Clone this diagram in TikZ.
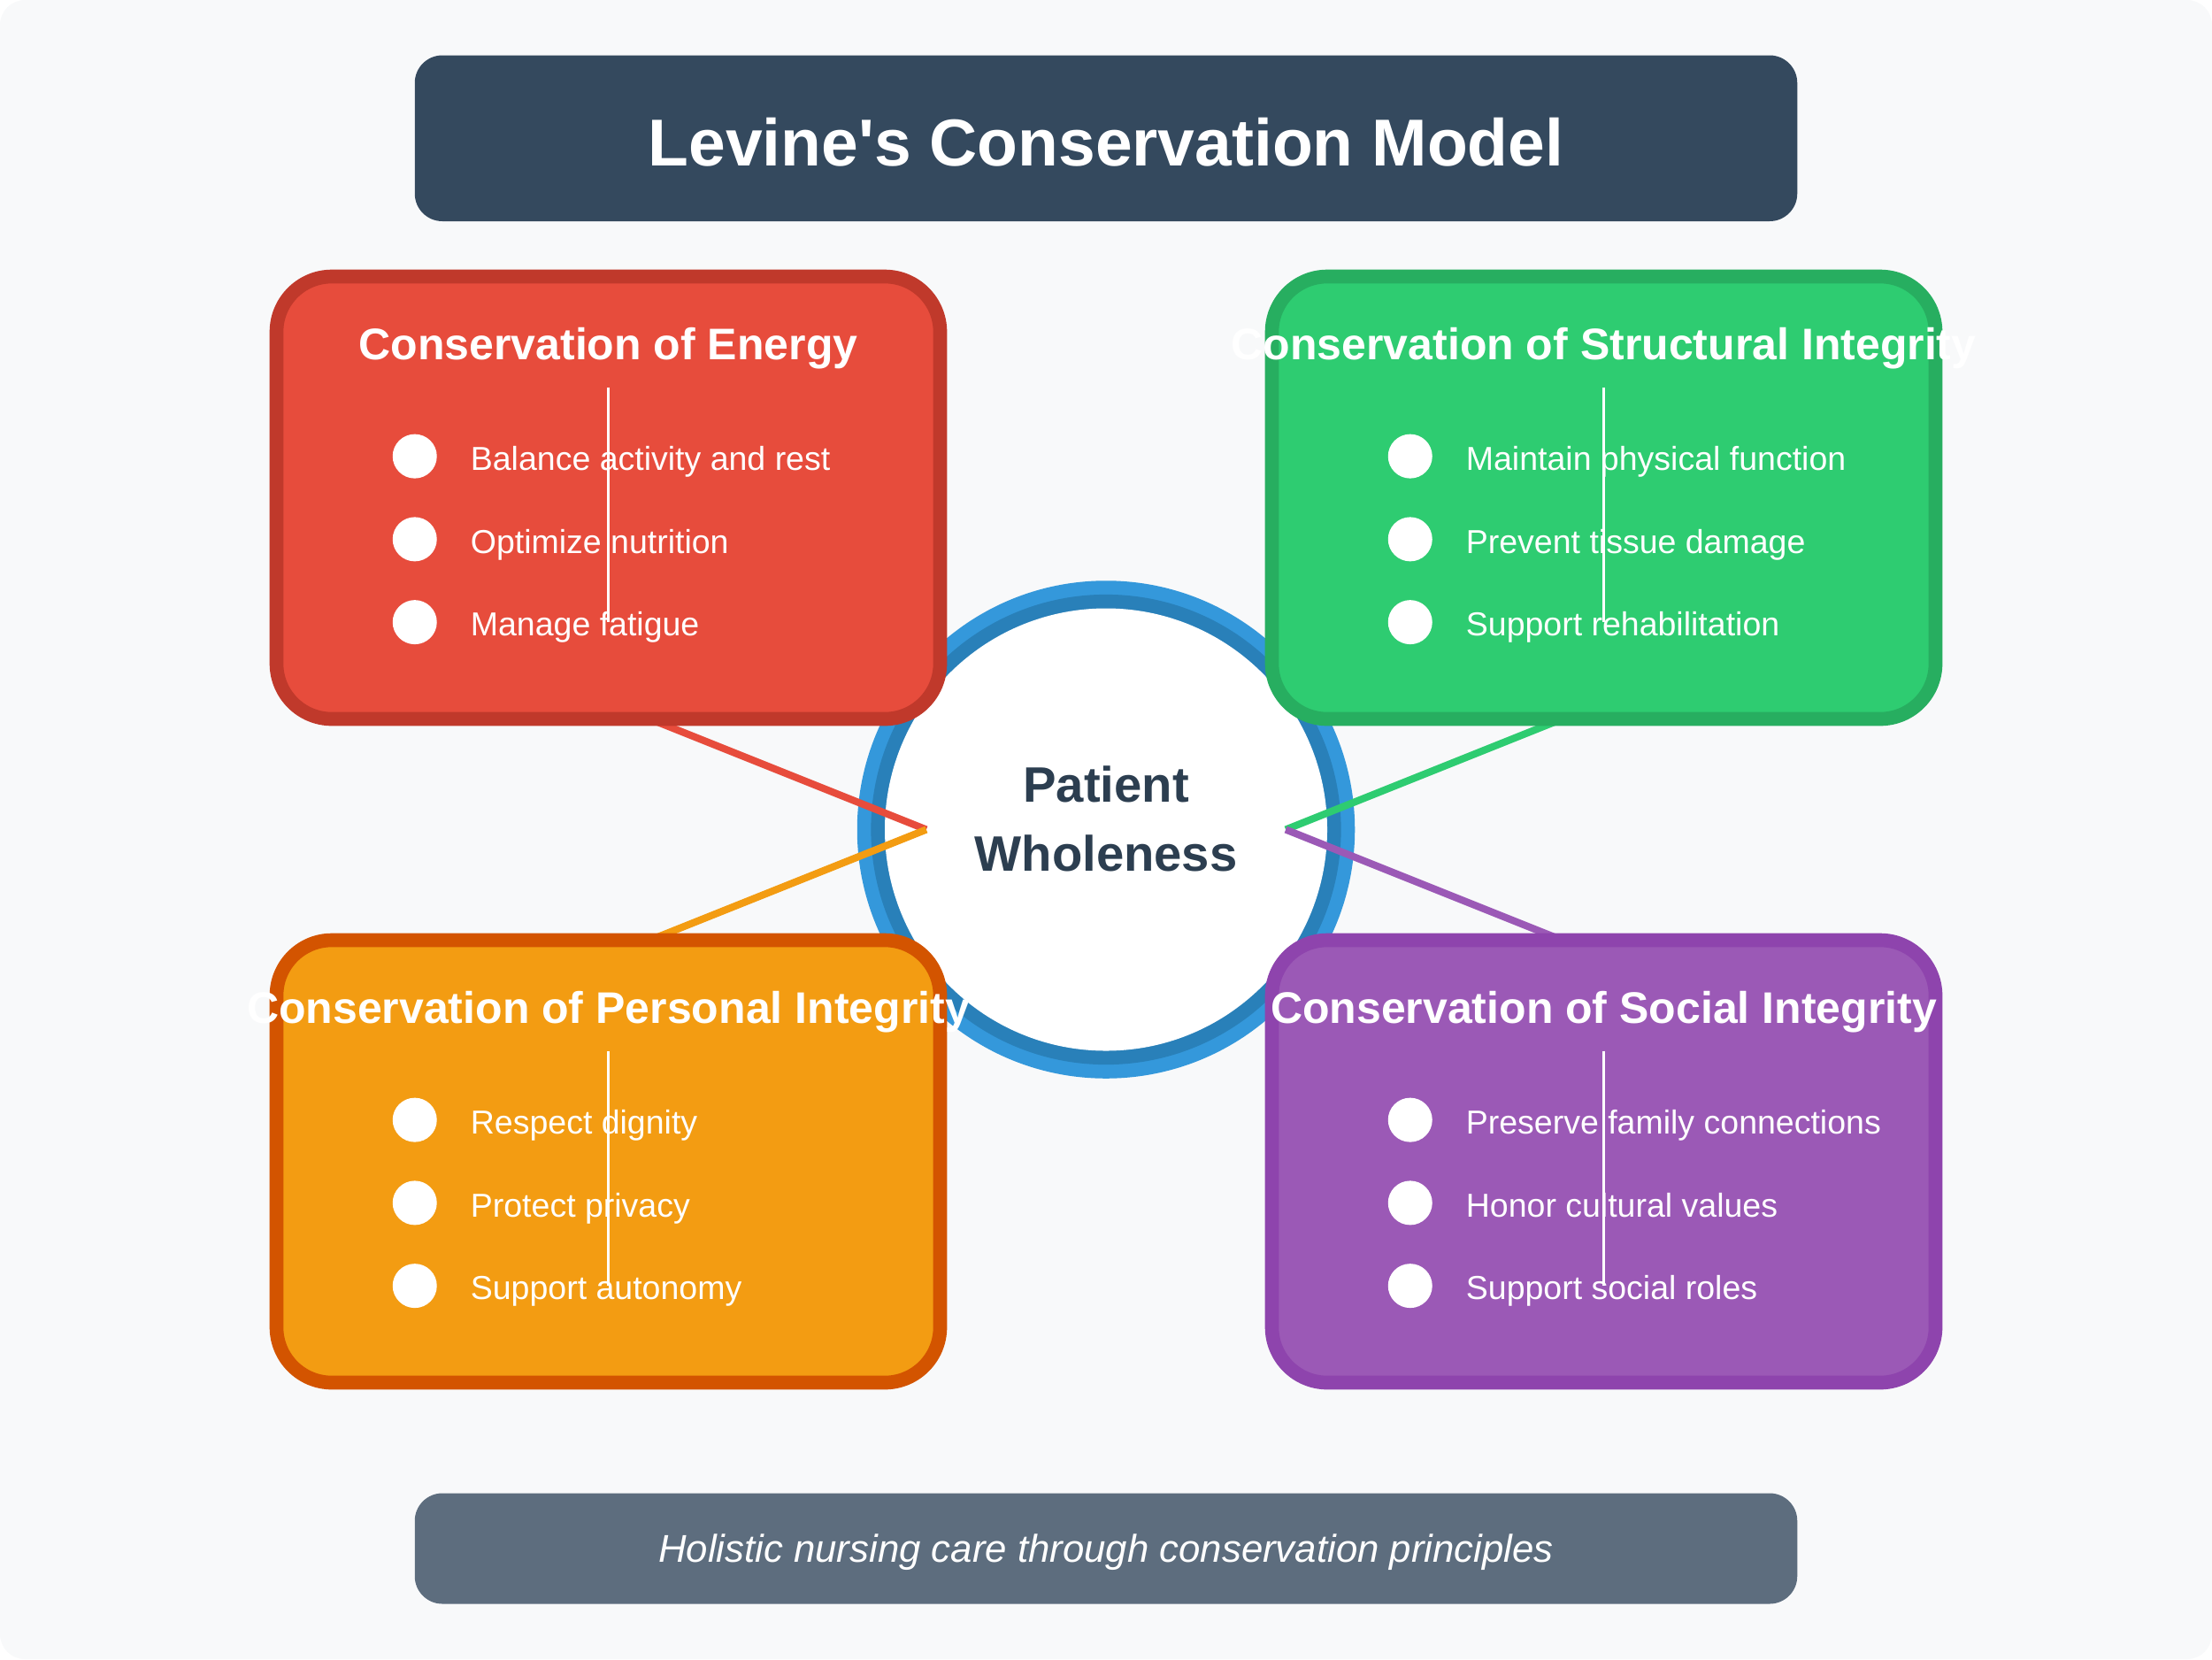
\documentclass[tikz,border=0pt]{standalone}
\usepackage{fontspec}
\setmainfont{Liberation Sans}[Ligatures=TeXOff]
\usetikzlibrary{calc}
\definecolor{bgc}{HTML}{F8F9FA}
\definecolor{titlec}{HTML}{34495E}
\definecolor{footc}{HTML}{5D6D7E}
\definecolor{darktext}{HTML}{2C3E50}
\definecolor{ringA}{HTML}{3498DB}
\definecolor{ringB}{HTML}{2980B9}
\definecolor{enF}{HTML}{E74C3C}\definecolor{enS}{HTML}{C0392B}
\definecolor{stF}{HTML}{2ECC71}\definecolor{stS}{HTML}{27AE60}
\definecolor{peF}{HTML}{F39C12}\definecolor{peS}{HTML}{D35400}
\definecolor{soF}{HTML}{9B59B6}\definecolor{soS}{HTML}{8E44AD}
\pgfdeclarelayer{back}\pgfdeclarelayer{mid}
\pgfsetlayers{back,mid,main}
\begin{document}
\begin{tikzpicture}[x=1pt,y=-1pt,
  card/.style={rectangle, rounded corners=20pt, line width=5pt, minimum width=240pt, minimum height=160pt, inner sep=0pt, outer sep=0pt},
  cardtitle/.style={text=white, font=\fontsize{16}{19}\selectfont\bfseries, anchor=base, inner sep=0pt},
  item/.style={text=white, font=\fontsize{12}{14}\selectfont, anchor=base west, inner sep=0pt},
  dot/.style={circle, fill=white, minimum size=16pt, inner sep=0pt, outer sep=0pt},
  band/.style={rectangle, rounded corners=10pt, inner sep=0pt, outer sep=0pt, anchor=north west},
  link/.style={line width=2.6pt},
  divider/.style={white, line width=1pt}]
\useasboundingbox (0,0) rectangle (800,600);
\begin{pgfonlayer}{back}
  \node[fill=bgc, rounded corners=9pt, minimum width=800pt, minimum height=600pt, inner sep=0pt, outer sep=0pt, anchor=north west] (bg) at (0,0) {};
  \node[circle, fill=ringA, minimum size=180pt, inner sep=0pt, outer sep=0pt] (core) at (400,300) {};
  \fill[ringB] (core.center) circle (85pt);
  \fill[white] (core.center) circle (80pt);
\end{pgfonlayer}
% title
\node[band, fill=titlec, minimum width=500pt, minimum height=60pt] (titlebox) at (150,20) {};
\node[text=white, font=\fontsize{24}{29}\selectfont\bfseries, anchor=base, inner sep=0pt] (titletext) at (400,60) {Levine's Conservation Model};
% cards
\foreach \n/\cx/\cy/\f/\s/\t/\a/\b/\c in {
  energy/220/180/enF/enS/{Conservation of Energy}/{Balance activity and rest}/{Optimize nutrition}/{Manage fatigue},
  structural/580/180/stF/stS/{Conservation of Structural Integrity}/{Maintain physical function}/{Prevent tissue damage}/{Support rehabilitation},
  personal/220/420/peF/peS/{Conservation of Personal Integrity}/{Respect dignity}/{Protect privacy}/{Support autonomy},
  social/580/420/soF/soS/{Conservation of Social Integrity}/{Preserve family connections}/{Honor cultural values}/{Support social roles}}{
  \node[card, fill=\f, draw=\s] (\n) at (\cx,\cy) {};
  \node[cardtitle] (\n-title) at ($(\n.north)+(0,30)$) {\t};
  \draw[divider] ($(\n.north)+(0,40)$) -- ($(\n.north)+(0,125)$);
  \node[dot] (\n-d1) at ($(\n.north west)+(50,65)$) {};
  \node[dot] (\n-d2) at ($(\n.north west)+(50,95)$) {};
  \node[dot] (\n-d3) at ($(\n.north west)+(50,125)$) {};
  \node[item] (\n-i1) at ($(\n.north west)+(70,70)$) {\a};
  \node[item] (\n-i2) at ($(\n.north west)+(70,100)$) {\b};
  \node[item] (\n-i3) at ($(\n.north west)+(70,130)$) {\c};
}
% connectors
\begin{pgfonlayer}{mid}
  \draw[link, draw=enF] ($(energy.south)+(15,0)$) -- ($(core.center)+(-65,0)$);
  \draw[link, draw=stF] ($(structural.south)+(-15,0)$) -- ($(core.center)+(65,0)$);
  \draw[link, draw=peF] ($(personal.north)+(15,0)$) -- ($(core.center)+(-65,0)$);
  \draw[link, draw=soF] ($(social.north)+(-15,0)$) -- ($(core.center)+(65,0)$);
\end{pgfonlayer}
% center text
\node[text=darktext, font=\fontsize{18}{22}\selectfont\bfseries, anchor=base, inner sep=0pt] (core-l1) at (400,290) {Patient};
\node[text=darktext, font=\fontsize{18}{22}\selectfont\bfseries, anchor=base, inner sep=0pt] (core-l2) at (400,315) {Wholeness};
% footer
\node[band, fill=footc, minimum width=500pt, minimum height=40pt] (footbox) at (150,540) {};
\node[text=white, font=\fontsize{14}{17}\selectfont\itshape, anchor=base, inner sep=0pt] (foottext) at (400,565) {Holistic nursing care through conservation principles};
\end{tikzpicture}
\end{document}
